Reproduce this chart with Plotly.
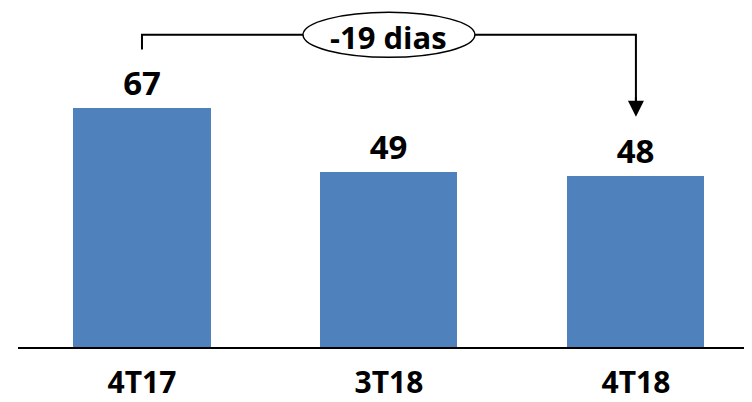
import plotly.graph_objects as go

categories = ["4T17", "3T18", "4T18"]
values = [67, 49, 48]
delta_label = "-19 dias"

FONT = "Open Sans"
BAR_COLOR = "#4F81BD"

fig = go.Figure()
fig.add_trace(go.Bar(
    x=list(range(len(categories))),
    y=values,
    width=0.555,
    marker=dict(color=BAR_COLOR, line=dict(width=0)),
    text=[str(v) for v in values],
    textposition="outside",
    cliponaxis=False,
    textfont=dict(family=FONT, size=33, color="black", weight="bold"),
))

# bracket with label
y_left_top = values[0] + 16.4
y_line = values[0] + 20.5
y_arrow_tip = values[2] + 16.5
fig.add_shape(type="path",
              path=f"M 0,{y_left_top} L 0,{y_line} L 0.652,{y_line} M 1.348,{y_line} L 2,{y_line} L 2,{y_arrow_tip + 3}",
              xref="x", yref="y", line=dict(color="black", width=2))
fig.add_shape(type="circle", xref="x", yref="y",
              x0=0.652, x1=1.348, y0=y_line - 6.3, y1=y_line + 6.3,
              line=dict(color="black", width=1.5), fillcolor="white")
fig.add_annotation(x=1, y=y_line - 0.6, xref="x", yref="y", text=delta_label, showarrow=False,
                   font=dict(family=FONT, size=31, color="black", weight="bold"))
fig.add_annotation(x=2, y=y_arrow_tip, ax=2, ay=y_arrow_tip + 6, xref="x", yref="y",
                   axref="x", ayref="y", text="", showarrow=True,
                   arrowhead=2, arrowsize=1.6, arrowwidth=2, arrowcolor="black")

fig.update_layout(
    width=744, height=394,
    margin=dict(l=10, r=0, t=0, b=51),
    paper_bgcolor="white", plot_bgcolor="white",
    showlegend=False,
    bargap=0,
)
fig.update_xaxes(
    range=[-0.502, 2.47],
    tickmode="array", tickvals=list(range(len(categories))), ticktext=categories,
    showline=True, linecolor="black", linewidth=2,
    showgrid=False, zeroline=False, ticks="",
    tickfont=dict(family=FONT, size=30, color="black", weight="bold"),
    ticklabelstandoff=8,
)
fig.update_yaxes(range=[0, 95.0], visible=False, showgrid=False, zeroline=False)

fig.write_html("out.html")
